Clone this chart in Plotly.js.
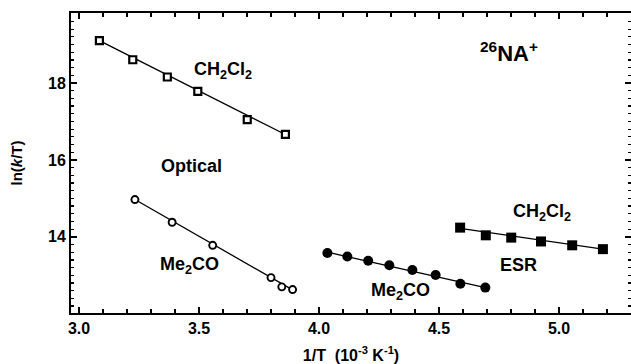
<!DOCTYPE html>
<html>
<head>
<meta charset="utf-8">
<script src="https://cdn.plot.ly/plotly-3.0.1.min.js"></script>
<style>
html,body{margin:0;padding:0;overflow:hidden;background:#fff;}
#chart{width:631px;height:364px;}
</style>
</head>
<body>
<div id="chart"></div>
<script>
// Optical, CH2Cl2 (open squares)
const optCH2Cl2_x = [3.085, 3.224, 3.368, 3.495, 3.701, 3.860];
const optCH2Cl2_y = [19.10, 18.605, 18.156, 17.78, 17.05, 16.665];
const optCH2Cl2_fitX = [3.085, 3.860];
const optCH2Cl2_fitY = [19.10, 16.66];

// Optical, Me2CO (open circles)
const optMe2CO_x = [3.233, 3.388, 3.557, 3.800, 3.845, 3.890];
const optMe2CO_y = [14.97, 14.38, 13.78, 12.94, 12.70, 12.63];
const optMe2CO_fitX = [3.233, 3.890];
const optMe2CO_fitY = [14.97, 12.62];

// ESR, Me2CO (filled circles)
const esrMe2CO_x = [4.035, 4.118, 4.205, 4.293, 4.389, 4.486, 4.589, 4.693];
const esrMe2CO_y = [13.58, 13.49, 13.38, 13.26, 13.14, 13.01, 12.78, 12.68];
const esrMe2CO_fitX = [4.035, 4.693];
const esrMe2CO_fitY = [13.60, 12.68];

// ESR, CH2Cl2 (filled squares)
const esrCH2Cl2_x = [4.588, 4.695, 4.801, 4.925, 5.055, 5.183];
const esrCH2Cl2_y = [14.24, 14.04, 13.98, 13.88, 13.78, 13.68];
const esrCH2Cl2_fitX = [4.588, 5.183];
const esrCH2Cl2_fitY = [14.22, 13.68];

const yTickVals = [14, 16, 18];
const yTickText = ['14', '16', '18'];

const FONT = 'Liberation Sans, Arial, sans-serif';

function fit(x, y) {
  return {x: x, y: y, mode: 'lines', type: 'scatter', showlegend: false,
    line: {color: '#000', width: 1.3}, hoverinfo: 'skip'};
}
function pts(x, y, symbol, fill, size, lw) {
  return {x: x, y: y, mode: 'markers', type: 'scatter', showlegend: false,
    marker: {symbol: symbol, size: size, color: fill,
      line: {color: '#000', width: lw}}};
}

const data = [
  fit(optCH2Cl2_fitX, optCH2Cl2_fitY),
  fit(optMe2CO_fitX, optMe2CO_fitY),
  fit(esrMe2CO_fitX, esrMe2CO_fitY),
  fit(esrCH2Cl2_fitX, esrCH2Cl2_fitY),
  pts(optCH2Cl2_x, optCH2Cl2_y, 'square', '#fff', 7, 2.2),
  pts(optMe2CO_x, optMe2CO_y, 'circle', '#fff', 7, 1.9),
  pts(esrMe2CO_x, esrMe2CO_y, 'circle', '#000', 10, 0),
  pts(esrCH2Cl2_x, esrCH2Cl2_y, 'square', '#000', 10, 0)
];

function ann(text, x, y, size) {
  return {text: text, x: x, y: y, xref: 'x', yref: 'y', showarrow: false,
    font: {family: FONT, size: size || 18, color: '#000', weight: 'bold'},
    xanchor: 'center', yanchor: 'middle'};
}

const layout = {
  width: 631, height: 364,
  margin: {l: 71, r: 0, t: 13, b: 51},
  paper_bgcolor: '#fff', plot_bgcolor: '#fff',
  font: {family: FONT, color: '#000'},
  xaxis: {
    range: [2.96667, 5.3],
    tick0: 3, dtick: 0.5, tickformat: '.1f',
    ticks: 'inside', ticklen: 6, tickwidth: 1.5, tickcolor: '#000',
    minor: {dtick: 0.1, ticks: 'inside', ticklen: 4, tickwidth: 1.2, tickcolor: '#000'},
    showline: true, linewidth: 2, linecolor: '#000', mirror: 'allticks',
    showgrid: false, zeroline: false,
    tickfont: {family: FONT, size: 16, weight: 'bold', color: '#000'},
    title: {text: '1/T  (10<sup>-3</sup> K<sup>-1</sup>)', standoff: 17,
      font: {family: FONT, size: 16, weight: 'bold', color: '#000'}}
  },
  yaxis: {
    range: [12.02, 19.82],
    tickmode: 'array', tickvals: yTickVals, ticktext: yTickText,
    ticks: 'inside', ticklen: 6, tickwidth: 1.5, tickcolor: '#000',
    minor: {dtick: 0.2, tick0: 12, ticks: 'inside', ticklen: 3, tickwidth: 1.2, tickcolor: '#000'},
    showline: true, linewidth: 2, linecolor: '#000', mirror: 'allticks',
    showgrid: false, zeroline: false,
    tickfont: {family: FONT, size: 16, weight: 'bold', color: '#000'},
    title: {text: 'ln(<i>k</i>/T)', standoff: 22,
      font: {family: FONT, size: 15, weight: 'bold', color: '#000'}}
  },
  annotations: [
    ann('CH<sub>2</sub>Cl<sub>2</sub>', 3.60, 18.33),
    ann('Optical', 3.47, 15.85),
    ann('Me<sub>2</sub>CO', 3.462, 13.25),
    ann('<sup>26</sup>NA<sup>+</sup>', 4.79, 18.8, 22),
    ann('CH<sub>2</sub>Cl<sub>2</sub>', 4.931, 14.64),
    ann('ESR', 4.833, 13.28),
    ann('Me<sub>2</sub>CO', 4.338, 12.57)
  ]
};

Plotly.newPlot('chart', data, layout, {displayModeBar: false, staticPlot: true});
</script>
</body>
</html>
